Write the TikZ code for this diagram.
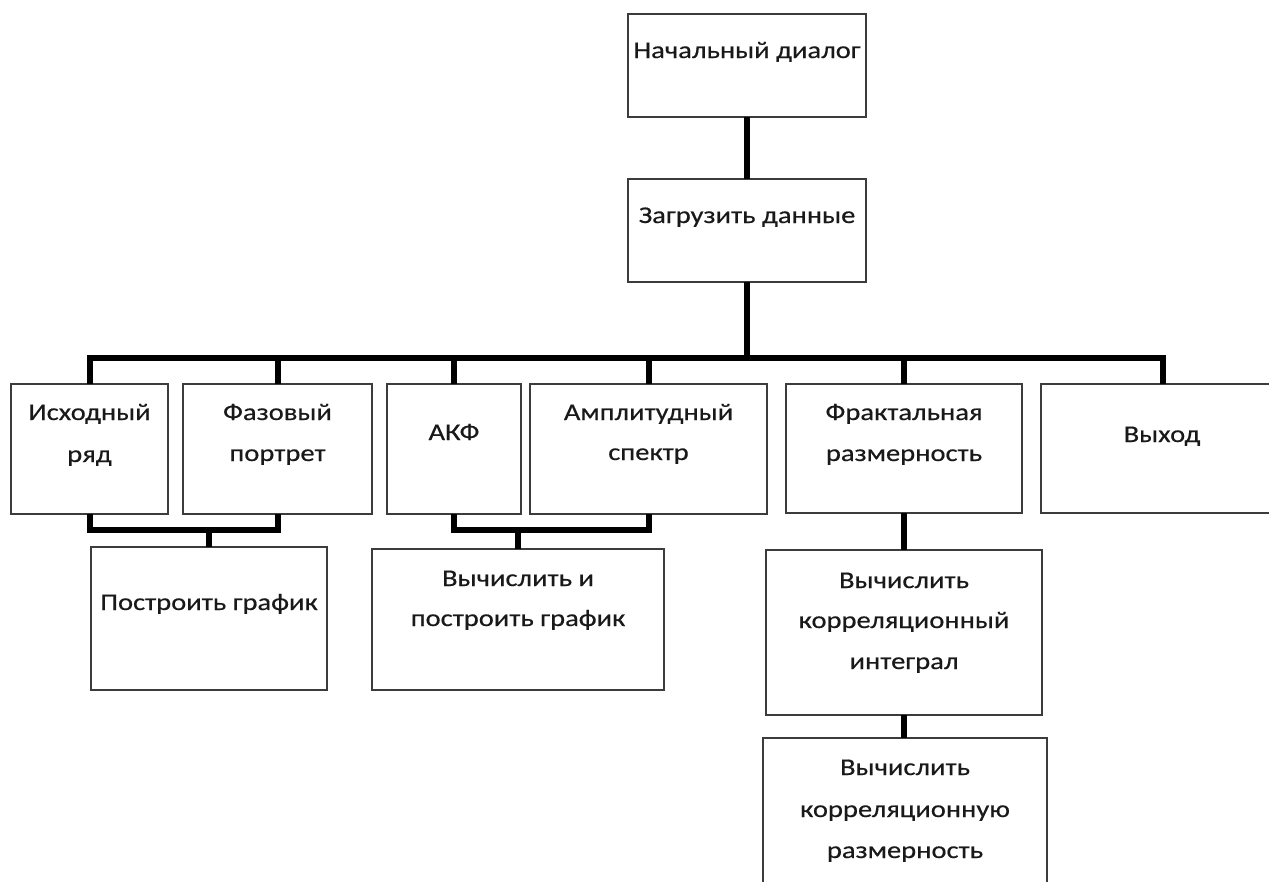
\documentclass[tikz,border=0pt]{standalone}
\usepackage{fontspec}
\setmainfont{Carlito}[FakeStretch=1.19,FakeBold=0.4]
\definecolor{boxgray}{RGB}{60,60,60}
\newcommand\mkbox[5]{\node[box, minimum width={(#4-#2)*1pt}, minimum height={(#5-#3)*1pt}] (#1) at ({(#2+#4)/2},{(#3+#5)/2}) {};}
\begin{document}
\begin{tikzpicture}[x=1pt,y=-1pt,
  box/.style={draw=boxgray, line width=1.5pt, inner sep=0pt, outer sep=0pt, fill=white},
  conn/.style={line width=6pt, black},
  txt/.style={font=\fontsize{24}{28}\selectfont, anchor=base, inner sep=0pt, text=black!90}]
\useasboundingbox (0,0) rectangle (1269,881);
\clip (0,0) rectangle (1269,881);
\fill[white] (0,0) rectangle (1269,881);
% boxes
\mkbox{n1}{628}{14}{866}{117}
\mkbox{n2}{628}{179}{866}{282}
\mkbox{b1}{11}{384}{168}{514}
\mkbox{b2}{183}{384}{372}{514}
\mkbox{b3}{387}{384}{521}{514}
\mkbox{b4}{530}{384}{767}{514}
\mkbox{b5}{786}{384}{1022}{513}
\mkbox{b6}{1041}{384}{1285}{513}
\mkbox{p1}{91}{547}{327}{690}
\mkbox{p2}{372}{549}{664}{690}
\mkbox{k1}{766}{550}{1042}{715}
\mkbox{k2}{763}{738}{1047}{900}
% connectors
\coordinate (bus) at (747,358);
\draw[conn] (n1.south) -- (n2.north);
\draw[conn] (n2.south) -- (bus);
\foreach \b in {b1,b2,b3,b4,b5,b6} \draw[conn] (\b.north) |- (bus);
\coordinate (j1) at (209,530);
\draw[conn] (b1.south) |- (j1) -| (b2.south);
\draw[conn] (j1) -- (p1.north);
\coordinate (j2) at (518,530);
\draw[conn] (b3.south) |- (j2) -| (b4.south);
\draw[conn] (j2) -- (p2.north);
\draw[conn] (b5.south) -- (k1.north);
\draw[conn] (k1.south) -- (k1.south |- k2.north);
% texts
\node[txt] (tn1) at (747,58) {Начальный диалог};
\node[txt] (tn2) at (747,223) {Загрузить данные};
\node[txt] (tb1a) at (89.5,420) {Исходный};
\node[txt] (tb1b) at (89.5,462) {ряд};
\node[txt] (tb2a) at (277.5,420) {Фазовый};
\node[txt] (tb2b) at (277.5,461) {портрет};
\node[txt] (tb3) at (454,440) {АКФ};
\node[txt] (tb4a) at (648.5,420) {Амплитудный};
\node[txt] (tb4b) at (648.5,460) {спектр};
\node[txt] (tb5a) at (904,420) {Фрактальная};
\node[txt] (tb5b) at (904,461) {размерность};
\node[txt] (tb6) at (1162,442) {Выход};
\node[txt] (tp1) at (209,610) {Построить график};
\node[txt] (tp2a) at (518,586) {Вычислить и};
\node[txt] (tp2b) at (518,626) {построить график};
\node[txt] (tk1a) at (904,588) {Вычислить};
\node[txt] (tk1b) at (904,628) {корреляционный};
\node[txt] (tk1c) at (904,669) {интеграл};
\node[txt] (tk2a) at (905,775) {Вычислить};
\node[txt] (tk2b) at (905,817) {корреляционную};
\node[txt] (tk2c) at (905,858) {размерность};
\end{tikzpicture}
\end{document}
